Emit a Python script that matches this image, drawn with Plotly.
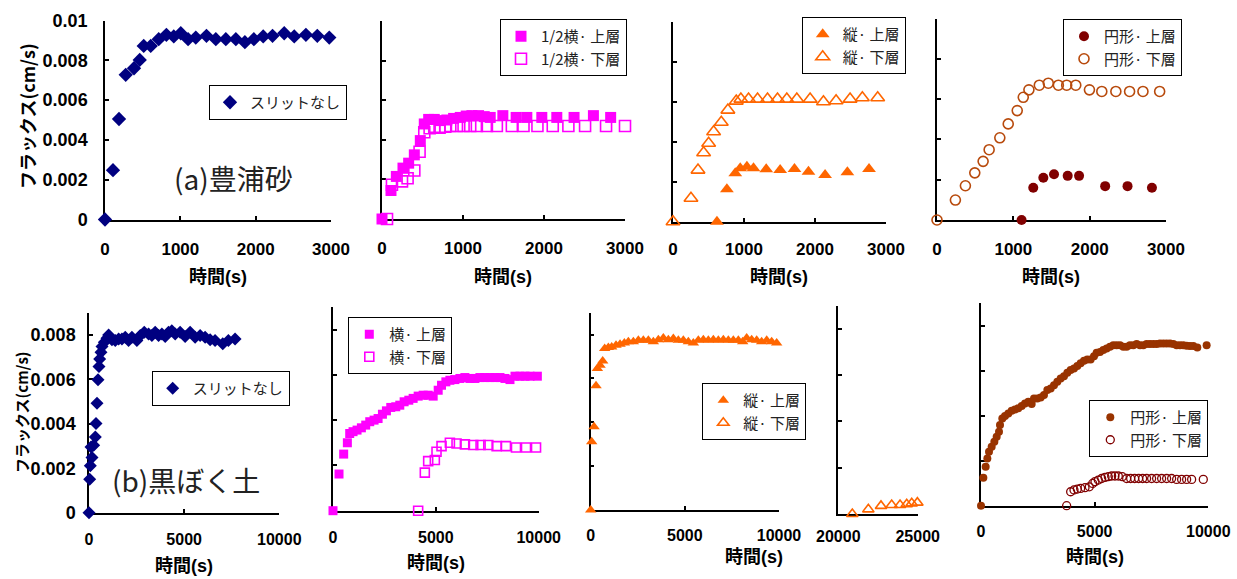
import plotly.graph_objects as go

W, H = 1237, 579

# ---------------- data ----------------
# (a) Toyoura sand
a1_x = [0, 106, 186, 275, 385, 461, 514, 607, 713, 815, 913, 1006, 1103, 1205, 1347, 1471, 1604, 1737, 1857, 1976, 2100, 2224, 2379, 2512, 2667, 2818, 2977]
a1_y = [0, 0.00248, 0.00505, 0.00727, 0.0076, 0.00802, 0.00872, 0.00872, 0.00906, 0.00928, 0.0092, 0.00936, 0.00906, 0.00914, 0.00923, 0.00906, 0.00906, 0.00906, 0.00891, 0.00906, 0.0092, 0.00923, 0.00936, 0.0092, 0.00928, 0.00923, 0.00914]

a2_up_x = [0, 111, 177, 259, 329, 399, 473, 522, 576, 645, 719, 801, 884, 966, 1040, 1110, 1192, 1262, 1336, 1492, 1656, 1788, 1973, 2158, 2371, 2610, 2823]
a2_up_y = [0, 0.00144, 0.00215, 0.00257, 0.00282, 0.00324, 0.00396, 0.0048, 0.00503, 0.00503, 0.00497, 0.005, 0.00508, 0.00513, 0.0052, 0.00522, 0.00522, 0.00517, 0.00513, 0.00522, 0.00513, 0.00513, 0.00513, 0.00513, 0.00513, 0.00522, 0.00513]
a2_lo_x = [62, 123, 247, 316, 399, 464, 522, 588, 645, 711, 781, 843, 925, 1007, 1089, 1171, 1295, 1418, 1603, 1747, 1919, 2108, 2301, 2507, 2766, 3000]
a2_lo_y = [0, 0.00173, 0.0019, 0.00206, 0.00245, 0.0034, 0.00438, 0.00458, 0.00466, 0.00461, 0.00466, 0.0047, 0.0047, 0.0047, 0.0047, 0.0047, 0.0047, 0.0047, 0.0047, 0.0047, 0.0047, 0.0047, 0.0047, 0.0047, 0.0047, 0.0047]

a3_up_x = [619, 759, 877, 947, 1041, 1134, 1313, 1509, 1711, 1908, 2142, 2456, 2761]
a3_up_y = [0, 0.00162, 0.00242, 0.00267, 0.00275, 0.00267, 0.00262, 0.00258, 0.00263, 0.0025, 0.00233, 0.00247, 0.00263]
a3_lo_x = [0, 253, 352, 431, 502, 572, 680, 773, 891, 956, 1064, 1191, 1331, 1472, 1603, 1744, 1931, 2119, 2297, 2494, 2667, 2883]
a3_lo_y = [0, 0.00117, 0.00258, 0.00345, 0.00392, 0.0045, 0.00497, 0.00558, 0.00603, 0.00613, 0.00613, 0.00613, 0.00613, 0.00613, 0.00613, 0.00613, 0.00613, 0.006, 0.00605, 0.00613, 0.0062, 0.0062]

a4_up_x = [1108, 1261, 1393, 1533, 1712, 1861, 2203, 2496, 2816]
a4_up_y = [0, 0.0016, 0.0021, 0.00227, 0.00219, 0.00219, 0.00168, 0.00168, 0.0016]
a4_lo_x = [0, 241, 372, 495, 604, 683, 823, 933, 1051, 1130, 1204, 1340, 1458, 1590, 1699, 1818, 1997, 2159, 2343, 2523, 2698, 2917]
a4_lo_y = [0, 0.00099, 0.0017, 0.00234, 0.00291, 0.00349, 0.00408, 0.00477, 0.00543, 0.00609, 0.00646, 0.00669, 0.00679, 0.00669, 0.00669, 0.00669, 0.00646, 0.00638, 0.00638, 0.00638, 0.00638, 0.00638]

# (b) Kuroboku soil
b1_x = [0, 35, 70, 105, 157, 245, 332, 367, 420, 472, 524, 560, 629, 682, 804, 944, 1031, 1206, 1381, 1556, 1731, 1906, 2080, 2255, 2517, 2692, 2902, 3129, 3304, 3479, 3654, 3829, 4003, 4178, 4353, 4528, 4790, 5052, 5315, 5577, 5839, 6101, 6364, 6626, 7028, 7325, 7675]
b1_y = [0, 0.0015, 0.00211, 0.00296, 0.00248, 0.00304, 0.00341, 0.00401, 0.00493, 0.00598, 0.00658, 0.00692, 0.00722, 0.00748, 0.00767, 0.00785, 0.008, 0.00778, 0.00775, 0.00782, 0.00782, 0.0079, 0.00775, 0.0079, 0.00775, 0.00797, 0.00812, 0.00804, 0.00797, 0.00812, 0.00797, 0.00804, 0.00793, 0.00812, 0.00819, 0.00804, 0.00812, 0.00793, 0.00812, 0.0079, 0.00797, 0.0079, 0.00778, 0.00775, 0.0076, 0.00775, 0.00782]

b2_up_x = [0, 292, 519, 698, 812, 974, 1169, 1380, 1591, 1786, 1997, 2192, 2403, 2597, 2808, 3052, 3247, 3458, 3685, 3896, 4140, 4383, 4627, 4870, 5114, 5276, 5487, 5682, 5925, 6169, 6412, 6656, 6899, 7143, 7386, 7630, 7873, 8117, 8360, 8604, 8847, 9091, 9334, 9578, 9935]
b2_up_y = [0, 0.00162, 0.0025, 0.003, 0.00341, 0.00349, 0.00356, 0.00366, 0.00378, 0.00393, 0.004, 0.00407, 0.00426, 0.00441, 0.00456, 0.00459, 0.00466, 0.00481, 0.00488, 0.00496, 0.00506, 0.0051, 0.0051, 0.00506, 0.00532, 0.00554, 0.00569, 0.00576, 0.00579, 0.00584, 0.00588, 0.00584, 0.00584, 0.00588, 0.00588, 0.00588, 0.00588, 0.00588, 0.00584, 0.00579, 0.00594, 0.00594, 0.00594, 0.00594, 0.00594]
b2_lo_x = [4140, 4464, 4627, 4951, 5032, 5276, 5682, 6006, 6412, 6818, 7175, 7549, 7955, 8409, 8896, 9383, 9870]
b2_lo_y = [0, 0.00168, 0.00219, 0.00224, 0.0026, 0.00285, 0.003, 0.00297, 0.00293, 0.0029, 0.0029, 0.0029, 0.00285, 0.00285, 0.00279, 0.00279, 0.00279]

b3_up_x = [0, 53, 177, 283, 354, 496, 637, 743, 938, 1115, 1345, 1558, 1788, 2000, 2265, 2531, 2796, 3062, 3327, 3593, 3858, 4124, 4389, 4655, 4920, 5186, 5451, 5717, 5982, 6248, 6513, 6779, 7044, 7310, 7575, 7841, 8071, 8283, 8549, 8814, 9080, 9345, 9611, 9876]
b3_up_y = [0, 0.00311, 0.0038, 0.00567, 0.00646, 0.0066, 0.0068, 0.00737, 0.00741, 0.00744, 0.00752, 0.00756, 0.00762, 0.00767, 0.00767, 0.00774, 0.00774, 0.00774, 0.00767, 0.00777, 0.00785, 0.00777, 0.00782, 0.00774, 0.00774, 0.00767, 0.00762, 0.00774, 0.00777, 0.00774, 0.00777, 0.00774, 0.00777, 0.00774, 0.00774, 0.00774, 0.00767, 0.00785, 0.00777, 0.00774, 0.00767, 0.00774, 0.00767, 0.00762]
b3_lo_x = [20882, 21891, 22689, 23361, 23887, 24307, 24622, 24979]
b3_lo_y = [0, 0.0002, 0.00035, 0.00039, 0.00039, 0.00042, 0.00046, 0.00049]

b4_up_x = [0, 103, 205, 279, 352, 469, 587, 689, 792, 836, 938, 1056, 1202, 1349, 1496, 1642, 1789, 1935, 2082, 2229, 2331, 2478, 2625, 2771, 2918, 3065, 3211, 3358, 3504, 3651, 3798, 3944, 4091, 4238, 4384, 4531, 4677, 4824, 4971, 5088, 5235, 5381, 5528, 5674, 5821, 5968, 6114, 6261, 6408, 6554, 6701, 6848, 6994, 7141, 7287, 7434, 7581, 7727, 7874, 8021, 8167, 8314, 8460, 8607, 8754, 8900, 9047, 9194, 9340, 9516, 9927]
b4_up_y = [0, 0.00124, 0.00173, 0.0021, 0.0024, 0.00262, 0.00284, 0.00307, 0.00329, 0.00359, 0.00388, 0.00399, 0.0041, 0.00422, 0.00428, 0.00433, 0.00443, 0.00455, 0.00462, 0.00452, 0.00477, 0.00477, 0.00481, 0.00492, 0.00514, 0.00521, 0.00536, 0.00551, 0.00566, 0.00576, 0.00591, 0.00603, 0.0061, 0.00621, 0.00633, 0.00644, 0.0065, 0.0065, 0.00665, 0.0068, 0.00684, 0.00692, 0.00699, 0.00707, 0.00714, 0.00714, 0.00714, 0.00707, 0.00707, 0.00714, 0.00714, 0.00719, 0.00714, 0.00714, 0.00719, 0.00719, 0.00719, 0.00719, 0.00721, 0.00721, 0.00721, 0.00721, 0.00719, 0.00714, 0.00714, 0.00714, 0.00711, 0.0071, 0.0071, 0.00704, 0.00714]
b4_lo_x = [3768, 3944, 4091, 4238, 4384, 4575, 4765, 4912, 5015, 5161, 5308, 5455, 5601, 5748, 5894, 6041, 6217, 6408, 6584, 6760, 6935, 7111, 7287, 7507, 7727, 7947, 8167, 8387, 8607, 8827, 9047, 9267, 9780]
b4_lo_y = [0, 0.00062, 0.0007, 0.00074, 0.00077, 0.0008, 0.00084, 0.00099, 0.00107, 0.00114, 0.00121, 0.00126, 0.00129, 0.00132, 0.00132, 0.00132, 0.00129, 0.00121, 0.00121, 0.00121, 0.00121, 0.00121, 0.00121, 0.00121, 0.00121, 0.00121, 0.00121, 0.00121, 0.00117, 0.00117, 0.00117, 0.00117, 0.00117]

# tick values / labels
y_ticks_a = [0, 0.002, 0.004, 0.006, 0.008, 0.01]
y_text_a = ["0", "0.002", "0.004", "0.006", "0.008", "0.01"]
y_ticks_b = [0, 0.002, 0.004, 0.006, 0.008]
y_text_b = ["0", "0.002", "0.004", "0.006", "0.008"]
x_ticks_a = [0, 1000, 2000, 3000]
x_text_a = ["0", "1000", "2000", "3000"]
x_ticks_b = [0, 5000, 10000]
x_text_b = ["0", "5000", "10000"]
x_ticks_b3 = [20000, 25000]
x_text_b3 = ["20000", "25000"]

x_title = "時間(s)"
y_title = "フラックス(cm/s)"
label_a = "(a)豊浦砂"
label_b = "(b)黒ぼく土"

# ---------------- styling ----------------
NAVY = "#000080"
MAG = "#ff00ff"
ORA = "#ff6600"
DRED = "#800000"
BRN_O = "#b84a0c"
BRN = "#993300"

FONT_B = "Liberation Sans, Arial, Noto Sans CJK JP"
FONT_J = "Noto Sans CJK JP, Liberation Sans"

fig = go.Figure()

# panel geometry in pixels: (x_left, x_right), (y_top, y_bottom)
panels = {
    1: dict(px=(105, 331), py=(20.5, 219.5), xr=[0, 3000], yr=[0, 0.01], xt=(x_ticks_a, x_text_a), yt=(y_ticks_a, y_text_a), ylab=True, xfs=17, xso=13, yso=12),
    2: dict(px=(382, 625), py=(21, 219), xr=[0, 3000], yr=[0, 0.01], xt=(x_ticks_a, x_text_a), yt=(y_ticks_a, y_text_a), ylab=False, xfs=17, xso=13, yso=12),
    3: dict(px=(673, 886), py=(21.7, 221.7), xr=[0, 3000], yr=[0, 0.01], xt=(x_ticks_a, x_text_a), yt=(y_ticks_a, y_text_a), ylab=False, xfs=17, xso=11, yso=12),
    4: dict(px=(937, 1166), py=(18.5, 220), xr=[0, 3000], yr=[0, 0.01], xt=(x_ticks_a, x_text_a), yt=(y_ticks_a, y_text_a), ylab=False, xfs=17, xso=13, yso=12),
    5: dict(px=(89, 279.3), py=(312.7, 512.7), xr=[0, 10000], yr=[0, 0.009], xt=(x_ticks_b, x_text_b), yt=(y_ticks_b, y_text_b), ylab=True, xfs=16, xso=11, yso=8),
    6: dict(px=(333, 538.7), py=(306.9, 510.7), xr=[0, 10000], yr=[0, 0.009], xt=(x_ticks_b, x_text_b), yt=(y_ticks_b, y_text_b), ylab=False, xfs=16, xso=11, yso=8),
    7: dict(px=(590.7, 779), py=(312.7, 510), xr=[0, 10000], yr=[0, 0.009], xt=(x_ticks_b, x_text_b), yt=(y_ticks_b, y_text_b), ylab=False, xfs=16, xso=10, yso=8),
    8: dict(px=(838.3, 917.7), py=(305.7, 514), xr=[20000, 25000], yr=[0, 0.009], xt=(x_ticks_b3, x_text_b3), yt=(y_ticks_b, y_text_b), ylab=False, xfs=16, xso=7, yso=8),
    9: dict(px=(981, 1208.3), py=(303.3, 505.7), xr=[0, 10000], yr=[0, 0.009], xt=(x_ticks_b, x_text_b), yt=(y_ticks_b, y_text_b), ylab=False, xfs=16, xso=10, yso=8),
}

layout_axes = {}
for n, p in panels.items():
    xs = "" if n == 1 else str(n)
    common = dict(showline=True, linecolor="black", linewidth=1.5, ticks="inside", ticklen=4,
                  tickwidth=1.5, tickcolor="black", showgrid=False, zeroline=False,
                  layer="below traces", fixedrange=True, tickmode="array", automargin=False)
    layout_axes["xaxis" + xs] = dict(
        common, domain=[p["px"][0] / W, p["px"][1] / W], range=p["xr"],
        tickvals=p["xt"][0], ticktext=p["xt"][1],
        anchor="y" + xs, ticklabelstandoff=p["xso"],
        tickfont=dict(family=FONT_B, size=p["xfs"], color="black", weight="bold"))
    layout_axes["yaxis" + xs] = dict(
        common, domain=[1 - p["py"][1] / H, 1 - p["py"][0] / H], range=p["yr"],
        tickvals=p["yt"][0], ticktext=p["yt"][1],
        anchor="x" + xs, showticklabels=p["ylab"], ticklabelstandoff=p["yso"],
        tickfont=dict(family=FONT_B, size=18, color="black", weight="bold"))


def add(n, x, y, name, symbol, color, size, legend, open_=False, lw=1.6):
    xs = "" if n == 1 else str(n)
    marker = dict(symbol=symbol, size=size, color=color)
    if open_:
        marker["line"] = dict(width=lw, color=color)
    else:
        marker["line"] = dict(width=0)
    fig.add_trace(go.Scatter(x=x, y=y, mode="markers", name=name, marker=marker,
                             xaxis="x" + xs, yaxis="y" + xs, cliponaxis=False,
                             legend=legend, showlegend=True, hoverinfo="skip"))


add(1, a1_x, a1_y, "スリットなし", "diamond", NAVY, 11, "legend")
add(2, a2_up_x, a2_up_y, "1/2横· 上層", "square", MAG, 11, "legend2")
add(2, a2_lo_x, a2_lo_y, "1/2横· 下層", "square-open", MAG, 11, "legend2", True)
add(3, a3_up_x, a3_up_y, "縦· 上層", "triangle-up", ORA, 12, "legend3")
add(3, a3_lo_x, a3_lo_y, "縦· 下層", "triangle-up-open", ORA, 12, "legend3", True)
add(4, a4_up_x, a4_up_y, "円形· 上層", "circle", DRED, 10, "legend4")
add(4, a4_lo_x, a4_lo_y, "円形· 下層", "circle-open", BRN_O, 10, "legend4", True)

add(5, b1_x, b1_y, "スリットなし", "diamond", NAVY, 10, "legend5")
add(6, b2_up_x, b2_up_y, "横· 上層", "square", MAG, 9, "legend6")
add(6, b2_lo_x, b2_lo_y, "横· 下層", "square-open", MAG, 9, "legend6", True)
add(7, b3_up_x, b3_up_y, "縦· 上層", "triangle-up", ORA, 10, "legend7")
add(8, b3_lo_x, b3_lo_y, "縦· 下層", "triangle-up-open", ORA, 10, "legend7", True)
add(9, b4_up_x, b4_up_y, "円形· 上層", "circle", BRN, 8, "legend8")
add(9, b4_lo_x, b4_lo_y, "円形· 下層", "circle-open", DRED, 8, "legend8", True, 1.3)

leg_pos = {
    "legend": (209, 85),
    "legend2": (500, 19),
    "legend3": (801.7, 17),
    "legend4": (1063, 19),
    "legend5": (151.7, 371),
    "legend6": (348.3, 317),
    "legend7": (702.3, 383),
    "legend8": (1089.3, 400),
}
legends = {}
for k, (lx, ly) in leg_pos.items():
    legends[k] = dict(x=lx / W, y=1 - ly / H, xanchor="left", yanchor="top",
                      xref="paper", yref="paper",
                      bordercolor="black", borderwidth=1, bgcolor="white",
                      font=dict(family=FONT_J, size=15, color="#222"),
                      itemwidth=30, tracegroupgap=0, itemclick=False, itemdoubleclick=False)

annotations = []
# x-axis titles
for cx, cy in [(218, 277), (503, 277), (779, 277), (1051, 277), (184, 566), (436, 563), (754, 557), (1095, 557)]:
    annotations.append(dict(text=x_title, x=cx / W, y=1 - cy / H, xref="paper", yref="paper",
                            showarrow=False, xanchor="center", yanchor="middle",
                            font=dict(family=FONT_B, size=18, color="black", weight="bold")))
# y-axis titles
annotations.append(dict(text=y_title, x=27 / W, y=1 - 116 / H, xref="paper", yref="paper",
                        showarrow=False, textangle=-90, xanchor="center", yanchor="middle",
                        font=dict(family=FONT_J, size=18, color="black", weight="bold")))
annotations.append(dict(text=y_title, x=21 / W, y=1 - 412 / H, xref="paper", yref="paper",
                        showarrow=False, textangle=-90, xanchor="center", yanchor="middle",
                        font=dict(family=FONT_J, size=15, color="black", weight="bold")))
# panel labels
annotations.append(dict(text=label_a, x=233 / W, y=1 - 178 / H, xref="paper", yref="paper",
                        showarrow=False, xanchor="center", yanchor="middle",
                        font=dict(family=FONT_J, size=28, color="#222")))
annotations.append(dict(text=label_b, x=186 / W, y=1 - 480 / H, xref="paper", yref="paper",
                        showarrow=False, xanchor="center", yanchor="middle",
                        font=dict(family=FONT_J, size=28, color="#222")))

fig.update_layout(
    template="none",
    width=W, height=H, autosize=False,
    margin=dict(l=0, r=0, t=0, b=0, pad=0),
    paper_bgcolor="white", plot_bgcolor="white",
    annotations=annotations,
    hovermode=False,
    **layout_axes,
    **legends,
)

fig.write_html("out.html", config={"displayModeBar": False},
               post_script="document.body.style.margin='0';")
